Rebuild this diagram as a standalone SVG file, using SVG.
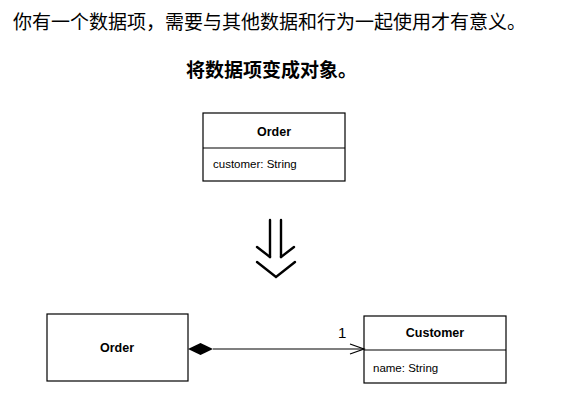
<svg xmlns="http://www.w3.org/2000/svg" width="570" height="414" viewBox="0 0 570 414">
<style>
.cjk{font-family:"Noto Sans CJK SC","Noto Sans CJK JP",sans-serif;font-size:19px;fill:#000}
.box{fill:#fff;stroke:#000;stroke-width:1.2}
.t{font-family:"Liberation Sans",Arial,sans-serif;fill:#000}
.b{font-weight:bold;font-size:12.5px}
.a{font-size:11.5px}
.ln{stroke:#000;fill:none}
</style>
<rect width="570" height="414" fill="#fff"/>
<text class="cjk" x="13" y="29">你有一个数据项，需要与其他数据和行为一起使用才有意义。</text>
<text class="cjk" x="186" y="77" font-weight="bold">将数据项变成对象。</text>
<g id="order-top">
<rect class="box" x="203" y="113" width="142" height="68"/>
<line class="ln" x1="203" y1="148" x2="345" y2="148" stroke-width="1.2"/>
<text class="t b" x="274" y="136" text-anchor="middle">Order</text>
<text class="t a" x="213" y="168">customer: String</text>
</g>
<g id="transform-arrow" class="ln" stroke-width="2.4" stroke-linecap="round">
<line x1="270" y1="220" x2="270" y2="257"/>
<line x1="281" y1="220" x2="281" y2="257"/>
<polyline points="257,247 270,257"/>
<polyline points="294,247 281,257"/>
<polyline points="257,262 276,277 295,262"/>
</g>
<g id="order-bottom">
<rect class="box" x="47" y="314" width="141" height="67"/>
<text class="t b" x="117" y="352" text-anchor="middle">Order</text>
</g>
<g id="customer">
<rect class="box" x="364" y="316" width="142" height="67"/>
<line class="ln" x1="364" y1="350" x2="506" y2="350" stroke-width="1.2"/>
<text class="t b" x="435" y="337" text-anchor="middle">Customer</text>
<text class="t a" x="373" y="372">name: String</text>
</g>
<g id="connectors">
<polygon points="188,349 200.5,343 213,349 200.5,355" fill="#000"/>
<line class="ln" x1="213" y1="349" x2="364" y2="349" stroke-width="1.2"/>
<polyline class="ln" points="350,344 364,349 350,354" stroke-width="1.2"/>
<text class="t" x="338" y="338" font-size="15">1</text>
</g>
</svg>
